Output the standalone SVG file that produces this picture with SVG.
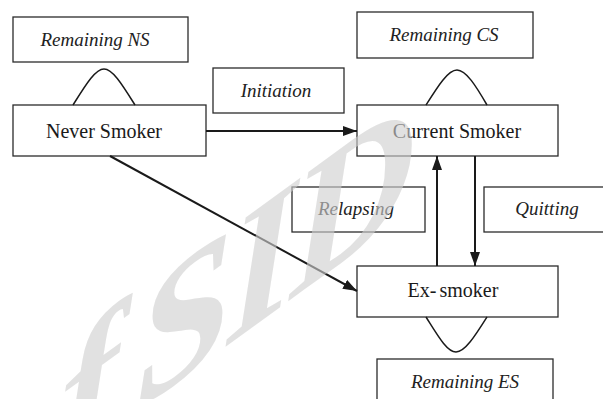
<svg xmlns="http://www.w3.org/2000/svg" width="603" height="399" viewBox="0 0 603 399">
<style>
.box{fill:#fff;stroke:#2b2b2b;stroke-width:1.3}
.lbl{font-family:"Liberation Serif","DejaVu Serif",serif;font-size:19px;font-style:italic;fill:#222;text-anchor:middle}
.nd{font-family:"Liberation Serif","DejaVu Serif",serif;font-size:20px;fill:#1a1a1a;text-anchor:middle}
.arch{fill:none;stroke:#1a1a1a;stroke-width:1.5}
.conn{fill:none;stroke:#1a1a1a;stroke-width:2}
.wm{font-family:"Liberation Serif","DejaVu Serif",serif;font-style:italic;font-weight:bold;font-size:175px;letter-spacing:-6px;word-spacing:-14px;fill:#cfcfcf;fill-opacity:0.62}
</style>
<defs>
<marker id="ah" markerUnits="userSpaceOnUse" markerWidth="14" markerHeight="10" refX="14" refY="5" orient="auto">
<path d="M0,0 L14,5 L0,10 z" fill="#1a1a1a"/>
</marker>
</defs>
<rect width="603" height="399" fill="#fff"/>
<g id="remaining-ns"><rect class="box" x="13" y="17" width="175" height="45"/><text class="lbl" x="95" y="46">Remaining NS</text></g>
<g id="never-smoker"><rect class="box" x="13" y="105" width="193" height="51"/><text class="nd" x="104" y="138">Never Smoker</text></g>
<g id="initiation"><rect class="box" x="213" y="68" width="131" height="45"/><text class="lbl" x="276" y="97">Initiation</text></g>
<g id="remaining-cs"><rect class="box" x="357" y="12" width="176" height="46"/><text class="lbl" x="444" y="41">Remaining CS</text></g>
<g id="current-smoker"><rect class="box" x="357" y="105" width="201" height="51"/><text class="nd" x="457" y="138">Current Smoker</text></g>
<g id="relapsing"><rect class="box" x="292" y="187" width="133" height="45"/><text class="lbl" x="356" y="215">Relapsing</text></g>
<g id="quitting"><rect class="box" x="484" y="187" width="130" height="45"/><text class="lbl" x="547" y="215">Quitting</text></g>
<g id="ex-smoker"><rect class="box" x="357" y="266" width="201" height="51"/><text class="nd" x="453" y="297">Ex-<tspan dx="3">smoker</tspan></text></g>
<g id="remaining-es"><rect class="box" x="377" y="359" width="176" height="50"/><text class="lbl" x="465" y="388">Remaining ES</text></g>
<g id="connectors">
<path class="arch" d="M73,105 C85,86 95,69 104,69 C113,69 123,86 135,105"/>
<path class="arch" d="M426,105 C438,86 448,70 457,70 C466,70 476,86 487,105"/>
<path class="arch" d="M426,317 C438,336 447,352 456,352 C465,352 475,336 487,317"/>
<line class="conn" x1="206" y1="131" x2="357" y2="131" marker-end="url(#ah)"/>
<line class="conn" x1="110" y1="156" x2="357" y2="291" marker-end="url(#ah)"/>
<line class="conn" x1="437" y1="266" x2="437" y2="156" marker-end="url(#ah)"/>
<line class="conn" x1="475" y1="156" x2="475" y2="266" marker-end="url(#ah)"/>
</g>
<text class="wm" transform="translate(60,467) skewY(-36)">f SID</text>
</svg>
